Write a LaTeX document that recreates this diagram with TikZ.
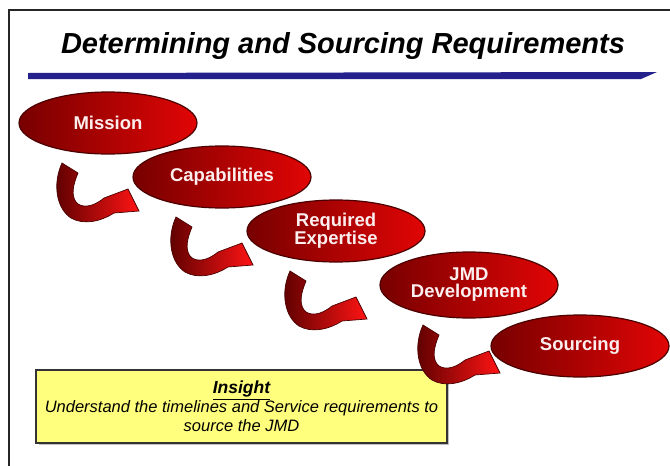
\documentclass[tikz,border=0pt]{standalone}
\usepackage{fontspec}
\setmainfont{Liberation Sans}
\usetikzlibrary{shapes.geometric}
\definecolor{ellL}{RGB}{120,0,0}
\definecolor{ellR}{RGB}{225,5,5}
\definecolor{ellB}{RGB}{75,0,0}
\definecolor{arrL}{RGB}{90,0,0}
\definecolor{arrR}{RGB}{255,20,20}
\definecolor{barblue}{RGB}{36,32,140}
\definecolor{boxyellow}{RGB}{255,255,125}
\definecolor{txtw}{RGB}{252,238,238}
\tikzset{
  stage/.style={ellipse, inner sep=0pt, minimum width=178pt, minimum height=62pt,
    left color=ellL, right color=ellR, draw=ellB, line width=1.2pt,
    text=txtw, align=center, font=\bfseries\fontsize{18.5}{17}\selectfont},
  hook/.pic={
    \shade[left color=arrL, right color=arrR, draw=ellB, line width=0.7pt]
      (-46,40) -- (-30,50)
      .. controls (-35,62) and (-37,72) .. (-32,79)
      .. controls (-27,85) and (-16,85) .. (-4,75)
      -- (20,66) -- (31,88) -- (6,90)
      .. controls (-8,99) and (-25,102) .. (-37,95)
      .. controls (-51,86) and (-56,62) .. (-46,40)
      -- cycle;
  },
  insight/.style={rectangle, draw=black!80, line width=1.6pt, fill=boxyellow,
    minimum width=411pt, minimum height=73pt, inner sep=0pt, align=center,
    font=\itshape\fontsize{16.5}{19}\selectfont},
  frameline/.style={draw=black!85, line width=1.6pt}
}
\begin{document}
\begin{tikzpicture}[x=1pt,y=-1pt]
\useasboundingbox (0,0) rectangle (670,466);
\fill[white] (0,0) rectangle (670,466);
% frame
\coordinate (fb) at (9,466);
\coordinate (fc) at (9,10);
\coordinate (fr) at (670,10);
\draw[frameline] (fb) -- (fc) -- (fr);
% title
\node[font=\bfseries\itshape\fontsize{29}{34}\selectfont] (title) at (343,46) {Determining and Sourcing Requirements};
% blue bar
\fill[barblue] (28,73) -- (657,72) -- (641,79) -- (28,79) -- cycle;
% insight box
\fill[black!25] (39,373) rectangle (449,445);
\node[insight] (ins) at (241.5,406.5) {\fontsize{17.5}{19}\selectfont\textbf{\underline{Insight}}\\Understand the timelines and Service requirements to\\source the JMD};
% stages and hook arrows
\node[stage] (m1) at (108,123) {Mission};
\pic at (m1.center) {hook};
\node[stage] (m2) at (222,177) {Capabilities};
\pic at (m2.center) {hook};
\node[stage] (m3) at (336,231) {Required\\Expertise};
\pic at (m3.center) {hook};
\node[stage, minimum height=66pt] (m4) at (469,285) {JMD\\Development};
\pic at (m4.center) {hook};
\node[stage] (m5) at (580,346) {Sourcing};
\end{tikzpicture}
\end{document}
